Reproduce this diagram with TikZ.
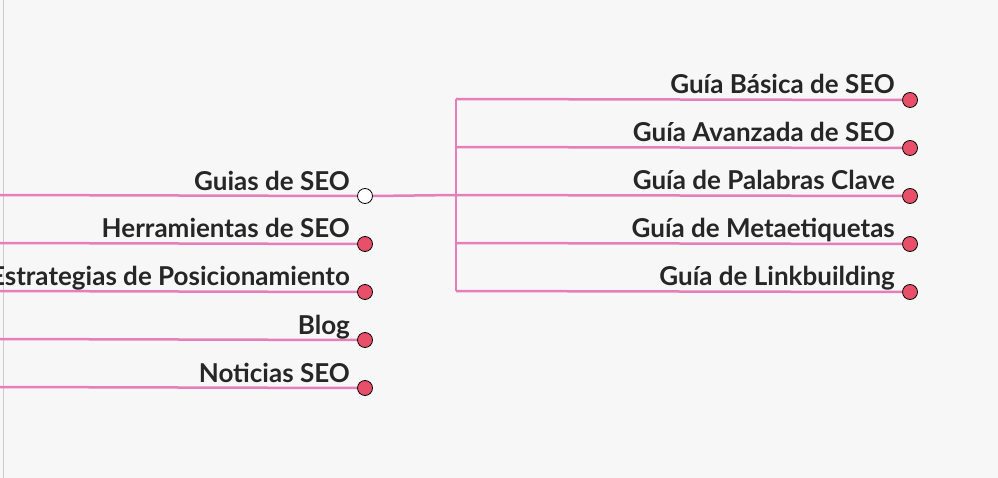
\documentclass[tikz,border=0pt]{standalone}
\usepackage{fontspec}
\setmainfont{Lato}
\definecolor{bgcol}{HTML}{F7F7F7}
\definecolor{linkcol}{HTML}{E57FB8}
\definecolor{dotcol}{HTML}{E8506A}
\tikzstyle{branch} = [draw=linkcol, line width=2.5pt]
\tikzstyle{dot} = [circle, draw=black, thick, fill=dotcol, minimum size=15pt, inner sep=0pt]
\tikzstyle{lbl} = [anchor=base east, font=\bfseries\fontsize{26}{26}\selectfont, text=black!85, inner sep=0pt]
\begin{document}
\begin{tikzpicture}[x=1pt,y=-1pt]
\clip (0,0) rectangle (998,478);
\fill[bgcol] (0,0) rectangle (998,478);
\draw[gray!40] (3,0) -- (3,478);
% left column
\node[dot, fill=white] (guias) at (365,196) {};
\draw[branch] (0,195) -- (guias.west);
\node[lbl] at (350,191) {Guias de SEO};
\foreach \y/\txt [count=\i] in {243/Herramientas de SEO, 291/Estrategias de Posicionamiento, 339/Blog, 387/Noticias SEO} {
  \node[dot] (left\i) at (365,\y+1) {};
  \draw[branch] (0,\y) -- (left\i.west);
  \node[lbl] at (350,\y-5) {\txt};
}
% right column
\coordinate (fork) at (456,195);
\draw[branch] (guias.east) -- (fork);
\draw[branch] (456,99) -- (456,291);
\foreach \y/\txt [count=\i] in {99/Guía Básica de SEO, 147/Guía Avanzada de SEO, 195/Guía de Palabras Clave, 243/Guía de Metaetiquetas, 291/Guía de Linkbuilding} {
  \node[dot] (right\i) at (910,\y+1) {};
  \draw[branch] (456,\y) -- (right\i.west);
  \node[lbl] at (895,\y-5) {\txt};
}
\end{tikzpicture}
\end{document}
